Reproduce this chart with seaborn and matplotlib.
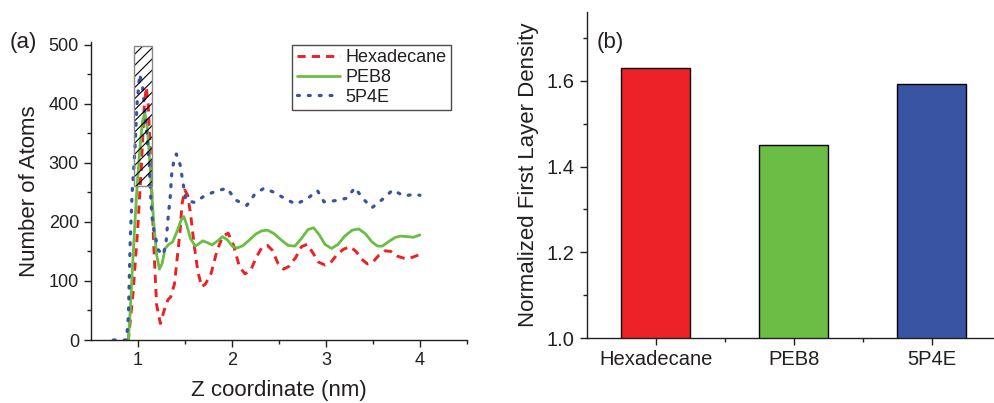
import matplotlib
matplotlib.use("Agg")
import matplotlib.pyplot as plt
import seaborn as sns
import pandas as pd
from matplotlib.patches import Rectangle
from matplotlib.ticker import FixedLocator

# ---------------- data ----------------
hex_x = [0.88, 0.90, 0.95, 1.00, 1.04, 1.07, 1.09, 1.11, 1.13, 1.17, 1.20, 1.24, 1.28, 1.32,
         1.35, 1.39, 1.42, 1.45, 1.47, 1.50, 1.53, 1.56, 1.60, 1.64, 1.68, 1.72, 1.78, 1.84,
         1.90, 1.96, 2.02, 2.08, 2.14, 2.20, 2.26, 2.32, 2.38, 2.43, 2.49, 2.55, 2.61, 2.68,
         2.74, 2.80, 2.86, 2.92, 2.99, 3.05, 3.12, 3.19, 3.26, 3.32, 3.38, 3.44, 3.50, 3.56,
         3.63, 3.69, 3.76, 3.84, 3.92, 4.00]
hex_y = [0, 0, 80, 190, 300, 400, 428, 400, 330, 160, 60, 28, 50, 68,
         73, 95, 140, 185, 230, 254, 245, 215, 160, 115, 90, 95, 113, 150,
         175, 181, 160, 124, 112, 118, 140, 157, 160, 152, 130, 120, 125, 140,
         158, 162, 148, 132, 127, 131, 145, 154, 158, 150, 137, 129, 132, 143,
         151, 150, 142, 138, 140, 145]

peb_x = [0.90, 0.92, 0.94, 0.97, 0.99, 1.02, 1.05, 1.075, 1.10, 1.12, 1.135, 1.17, 1.20, 1.23,
         1.26, 1.29, 1.33, 1.37, 1.42, 1.46, 1.49, 1.52, 1.56, 1.61, 1.65, 1.69, 1.74, 1.79,
         1.85, 1.90, 1.95, 2.01, 2.06, 2.12, 2.19, 2.26, 2.32, 2.38, 2.45, 2.52, 2.60, 2.67,
         2.74, 2.81, 2.87, 2.93, 2.99, 3.06, 3.13, 3.20, 3.28, 3.35, 3.42, 3.49, 3.55, 3.60,
         3.67, 3.74, 3.80, 3.87, 3.93, 4.00]
peb_y = [0, 50, 113, 200, 254, 320, 370, 385, 360, 320, 283, 198, 145, 120,
         130, 155, 162, 166, 185, 203, 209, 195, 172, 159, 163, 168, 165, 161,
         168, 175, 170, 158, 156, 160, 170, 180, 185, 186, 180, 170, 160, 159,
         172, 187, 190, 178, 162, 155, 162, 176, 186, 188, 180, 166, 159, 159,
         167, 174, 176, 175, 174, 178]

p4e_x = [0.74, 0.88, 0.90, 0.92, 0.94, 0.97, 0.99, 1.02, 1.05, 1.08, 1.10, 1.12, 1.135, 1.15,
         1.17, 1.22, 1.27, 1.30, 1.32, 1.345, 1.36, 1.38, 1.41, 1.45, 1.47, 1.49, 1.51, 1.60,
         1.72, 1.83, 1.95, 2.04, 2.16, 2.24, 2.34, 2.45, 2.57, 2.68, 2.80, 2.91, 2.98, 3.10,
         3.22, 3.31, 3.39, 3.49, 3.60, 3.71, 3.83, 3.95, 4.00]
p4e_y = [0, 0, 40, 170, 249, 322, 395, 450, 430, 380, 340, 300, 250, 210,
         186, 152, 144, 164, 203, 243, 280, 300, 315, 297, 277, 257, 237, 233,
         245, 252, 257, 237, 228, 246, 257, 250, 239, 230, 239, 253, 234, 236,
         240, 258, 240, 224, 238, 254, 244, 247, 245]

bar_names = ["Hexadecane", "PEB8", "5P4E"]
bar_values = [1.63, 1.45, 1.593]

c_red = "#ED2024"
c_green = "#6ABD45"
c_blue = "#3953A4"
c_text = "#231F20"

# ---------------- figure ----------------
sns.set_style("ticks")
plt.rcParams["font.family"] = ["Liberation Sans", "DejaVu Sans"]
plt.rcParams["text.color"] = c_text
plt.rcParams["axes.labelcolor"] = c_text
plt.rcParams["xtick.color"] = c_text
plt.rcParams["ytick.color"] = c_text
plt.rcParams["hatch.linewidth"] = 0.8

fig = plt.figure(figsize=(9.94, 4.03), dpi=100)
ax1 = fig.add_axes([0.0913, 0.1563, 0.3785, 0.740])
ax2 = fig.add_axes([0.5902, 0.1605, 0.4165, 0.810])

df_hex = pd.DataFrame({"z": hex_x, "n": hex_y})
df_peb = pd.DataFrame({"z": peb_x, "n": peb_y})
df_p4e = pd.DataFrame({"z": p4e_x, "n": p4e_y})

sns.lineplot(data=df_hex, x="z", y="n", ax=ax1, color=c_red, lw=2.1, sort=False,
             label="Hexadecane", estimator=None)
sns.lineplot(data=df_peb, x="z", y="n", ax=ax1, color=c_green, lw=2.0, sort=False,
             label="PEB8", estimator=None)
sns.lineplot(data=df_p4e, x="z", y="n", ax=ax1, color=c_blue, lw=2.3, sort=False,
             label="5P4E", estimator=None)
lines = ax1.get_lines()
lines[0].set_dashes((2.8, 2.1))
lines[2].set_dashes((0.6, 2.8))
lines[2].set_dash_capstyle("round")

# hatched region
ax1.add_patch(Rectangle((0.965, 260), 0.182, 238, facecolor="none", edgecolor="black",
                        lw=0, hatch="///", zorder=3))
ax1.add_patch(Rectangle((0.965, 260), 0.182, 238, facecolor="none", edgecolor="#888888",
                        lw=1.0, zorder=3))

ax1.set_xlim(0.5, 4.5)
ax1.set_ylim(0, 505)
ax1.xaxis.set_major_locator(FixedLocator([1, 2, 3, 4]))
ax1.xaxis.set_minor_locator(FixedLocator([1.5, 2.5, 3.5, 4.5]))
ax1.yaxis.set_major_locator(FixedLocator([0, 100, 200, 300, 400, 500]))
ax1.yaxis.set_minor_locator(FixedLocator([50, 150, 250, 350, 450]))
ax1.set_xlabel("Z coordinate (nm)", fontsize=16, labelpad=8)
ax1.set_ylabel("Number of Atoms", fontsize=16, labelpad=6)
ax1.tick_params(axis="both", which="major", labelsize=13, direction="out", length=5,
                width=1, colors=c_text)
ax1.tick_params(axis="both", which="minor", direction="out", length=3, width=1, colors=c_text)
for s in ["top", "right"]:
    ax1.spines[s].set_visible(False)
for s in ["left", "bottom"]:
    ax1.spines[s].set_color(c_text)
    ax1.spines[s].set_linewidth(1)

leg = ax1.legend(loc="upper right", bbox_to_anchor=(0.958, 0.99), fontsize=13,
                 frameon=True, fancybox=False, edgecolor=c_text, handlelength=2.4,
                 borderpad=0.25, labelspacing=0.15, handletextpad=0.3, borderaxespad=0)
leg.get_frame().set_linewidth(1)

fig.text(0.010, 0.880, "(a)", fontsize=16, color=c_text)

# ---------------- bar panel ----------------
df_bar = pd.DataFrame({"name": bar_names, "val": bar_values})
sns.barplot(data=df_bar, x="name", y="val", hue="name", ax=ax2,
            palette=["#EC2226", "#6BBD46", "#3854A3"], width=0.5, saturation=1,
            edgecolor="black", linewidth=1, legend=False)
ax2.set_xlim(-0.5, 2.5)
ax2.set_ylim(1.0, 1.76)
ax2.yaxis.set_major_locator(FixedLocator([1.0, 1.2, 1.4, 1.6]))
ax2.yaxis.set_minor_locator(FixedLocator([1.1, 1.3, 1.5, 1.7]))
ax2.xaxis.set_minor_locator(FixedLocator([0.5, 1.5]))
ax2.set_yticklabels(["1.0", "1.2", "1.4", "1.6"])
ax2.set_xlabel("")
ax2.set_ylabel("Normalized First Layer Density", fontsize=16, labelpad=6)
ax2.tick_params(axis="both", which="major", labelsize=14.5, direction="out", length=5,
                width=1, colors=c_text)
ax2.tick_params(axis="both", which="minor", direction="out", length=3, width=1, colors=c_text)
for s in ["top", "right"]:
    ax2.spines[s].set_visible(False)
for s in ["left", "bottom"]:
    ax2.spines[s].set_color(c_text)
    ax2.spines[s].set_linewidth(1)

fig.text(0.600, 0.880, "(b)", fontsize=16, color=c_text)

fig.savefig("out.png", dpi=100)
